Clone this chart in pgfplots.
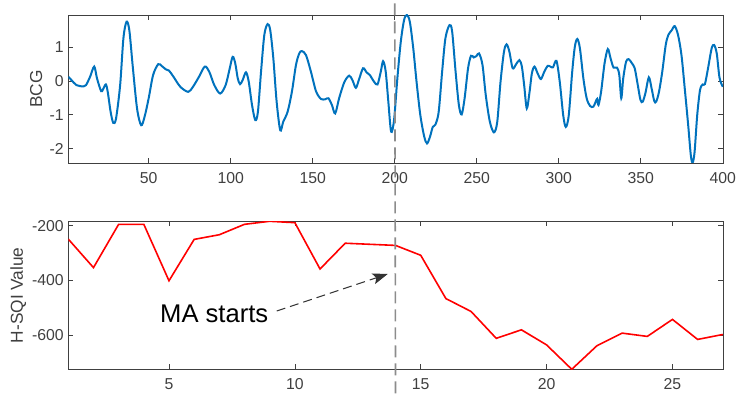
\documentclass[border=0pt]{standalone}
\usepackage{fontspec}
\setmainfont{Liberation Sans}
\usepackage{pgfplots}
\pgfplotsset{compat=1.18}
\usetikzlibrary{arrows.meta}

\definecolor{mblue}{rgb}{0,0.447,0.741}
\definecolor{axgray}{rgb}{0.25,0.25,0.25}
\definecolor{vgray}{rgb}{0.55,0.55,0.55}

\pgfplotstableread{
x y
1 0.13
2.9 0.03
6 -0.12
10.2 -0.16
11.8 -0.12
14.3 0.13
16.8 0.43
18.5 0.08
21 -0.3
22.2 -0.24
23.9 -0.1
25.1 -0.34
26.8 -0.91
28.4 -1.24
30.1 -1.11
32.6 -0.12
34.6 1.27
36.5 1.76
38.2 1.51
40.2 0.48
42.9 -0.81
45.4 -1.31
47.5 -1.06
50 -0.51
52.7 0.18
55.8 0.5
57.9 0.45
60.4 0.35
62.4 0.31
65.1 0.13
69.3 -0.17
74.1 -0.32
77 -0.17
80.7 0.13
84.2 0.43
86.9 0.28
90 -0.12
93.6 -0.37
96.9 -0.12
99.2 0.33
101.2 0.72
102.8 0.52
104.3 0.08
105.7 -0.09
107.3 0.03
109.3 0.26
111 -0.02
113 -0.71
115 -1.16
116.6 -0.91
118.5 0.28
120.5 1.37
122.5 1.69
124.1 1.51
126 0.67
128 -0.61
130.2 -1.46
132 -1.21
134.7 -0.91
137.3 -0.32
139.8 0.48
141.8 0.82
143.4 0.89
145.9 0.77
148.9 0.28
152 -0.3
155 -0.53
157.6 -0.54
159.6 -0.51
161.7 -0.71
163.7 -0.96
166.1 -0.51
169.2 -0.04
172.2 0.16
174.2 0.03
176.3 -0.2
178.3 0.06
180.7 0.38
182.8 0.26
184.8 0.18
187.4 -0.02
189.5 -0.1
191.5 0.28
192.9 0.59
194.5 0.28
196.1 -0.61
197.8 -1.5
199.6 -1.15
201.6 0.08
203.7 1.17
205.7 1.81
207.4 1.96
209.2 1.76
211.3 0.97
213.3 -0.02
215.6 -1.01
218 -1.65
219.7 -1.85
221.5 -1.65
223.2 -1.36
224.8 -1.29
226.8 -0.91
228.9 0.28
230.9 1.27
233.4 1.66
235 1.47
237.1 0.28
239.1 -0.71
240.8 -0.99
242.6 -0.51
244.7 0.38
246.5 0.75
248.2 0.7
249.8 0.74
251.4 0.82
253.5 0.48
255.5 -0.42
258 -1.21
260.5 -1.52
262.5 -1.21
264.5 -0.02
266.6 0.87
268.2 1.09
269.9 0.87
271.9 0.38
274 0.5
276 0.62
277.5 0.43
278.9 -0.12
280.5 -0.81
282.2 -0.32
283.6 0.23
285.2 0.43
287.1 0.23
289.1 0.06
291.2 0.28
293.2 0.45
294.9 0.43
296.5 0.41
298.6 0.6
300.6 -0.02
302.7 -1.01
304.3 -1.36
306.1 -1.01
308.2 0.28
309.8 1.02
311.3 1.25
312.9 0.97
315 0.08
317 -0.51
319.1 -0.74
321.1 -0.76
322.5 -0.61
323.4 -0.53
324.2 -0.71
325.8 -0.32
327.9 0.52
329.9 0.95
331.6 0.67
333.4 0.4
335.5 0.4
336.9 0.18
338.1 -0.51
339.3 0.08
341 0.57
342.6 0.65
344.7 0.52
346.3 0.38
348 -0.07
349.8 -0.56
351.2 -0.61
352.9 -0.34
354.9 0.11
356.6 -0.22
358.2 -0.59
359.4 -0.61
361.1 -0.32
363.1 0.28
365.2 1.07
366.8 1.37
368.9 1.51
370.7 1.63
372.7 1.37
374.8 0.77
376.8 -0.22
378.9 -1.31
380.5 -2.2
381.6 -2.42
382.8 -2.1
384.4 -1.01
386.1 -0.27
387.7 -0.1
389.1 -0.09
391 0.38
393.2 0.97
394.7 1.07
396.3 0.82
398 0.1
400 -0.17
}\bcgdata

\pgfplotstableread{
x y
1 -249
2 -353
3 -195
4 -195
5 -401
6 -250
7 -233
8 -195
9 -184
10 -189
11 -358
12 -264
13 -268
14 -272
15 -308
16 -466
17 -513
18 -611
19 -580
20 -635
21 -724
22 -638
23 -592
24 -604
25 -542
26 -615
27 -597
}\hsqidata

\pgfplotsset{
  panel/.style={
    scale only axis,
    width=654.5bp, height=148bp,
    axis line style={axgray, line width=0.6bp},
    tick style={axgray, line width=0.6bp},
    tick align=inside,
    major tick length=5bp,
    /pgf/number format/assume math mode=true,
    ticklabel style={font=\fontsize{15.8bp}{19bp}\selectfont, text=axgray},
    xticklabel style={yshift=-5.5bp},
    yticklabel style={xshift=-1bp},
    label style={font=\fontsize{17.3bp}{20bp}\selectfont, text=axgray},
    scaled ticks=false,
  }
}

\begin{document}
\begin{tikzpicture}
\useasboundingbox (0,0) rectangle (741bp,400bp);

% BCG trace
\begin{axis}[panel,
  at={(68.3bp,237bp)}, anchor=south west,
  xmin=1, xmax=400, ymin=-2.43, ymax=1.96,
  xtick={50,100,...,400}, ytick={-2,-1,0,1},
  ylabel={BCG},
  ylabel style={at={(axis description cs:-0.049,0.5)}, anchor=center},
]
  \addplot[mblue, line width=2bp, smooth, tension=0.5] table[x=x,y=y] {\bcgdata};
  \coordinate (vtop) at (axis cs:200,1.96);
\end{axis}

% H-SQI values
\begin{axis}[panel,
  at={(68.3bp,30.7bp)}, anchor=south west,
  xmin=1, xmax=27, ymin=-724, ymax=-184,
  xtick={5,10,...,25}, ytick={-600,-400,-200},
  ylabel={H-SQI Value},
  ylabel style={at={(axis description cs:-0.0764,0.5)}, anchor=center},
]
  \addplot[red, line width=1.6bp] table[x=x,y=y] {\hsqidata};
  \coordinate (vbot) at (axis cs:14,-724);
\end{axis}

% onset marker through both panels
\draw[vgray, line width=1.6bp, dash pattern=on 12bp off 6bp]
  ([yshift=11.7bp]vtop) -- ([yshift=-25.7bp]vbot);

% annotation
\node[anchor=base west, inner sep=0pt, font=\fontsize{25.6bp}{30bp}\selectfont]
  at (160bp,77.3bp) {MA starts};
\draw[black!80, line width=1bp, dash pattern=on 9bp off 5bp,
  -{Stealth[length=15bp,width=11bp,inset=3bp]}]
  (276.7bp,89bp) -- (387.7bp,126bp);
\end{tikzpicture}
\end{document}
